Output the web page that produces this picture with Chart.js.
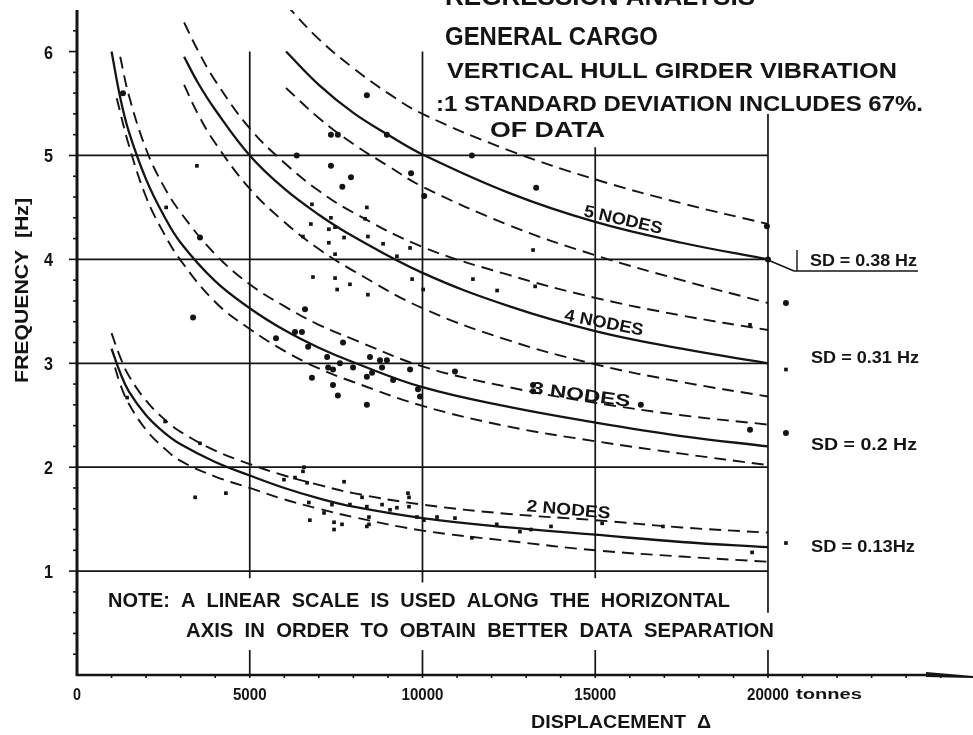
<!DOCTYPE html>
<html><head><meta charset="utf-8">
<script src="https://cdn.jsdelivr.net/npm/chart.js@4/dist/chart.umd.min.js"></script>
<style>html,body{margin:0;padding:0;background:#fff}#c{display:block}</style>
</head><body>
<canvas id="c" width="973" height="735"></canvas>
<script>
// ---------- DATA ----------
const xTickValues = [0, 5000, 10000, 15000, 20000];
const xTickLabels = ['0', '5000', '10000', '15000', '20000'];
const yTickValues = [1, 2, 3, 4, 5, 6];
const yTickLabels = ['1', '2', '3', '4', '5', '6'];

// 5 nodes
const node5Disp  = [6050, 7000, 8000, 9000, 10000, 12500, 15000, 17500, 20000];
const node5Mean  = [6.00, 5.68, 5.41, 5.20, 5.01, 4.64, 4.36, 4.16, 4.00];
const node5Upper = [6.45, 6.12, 5.84, 5.60, 5.40, 5.05, 4.77, 4.54, 4.34];
const node5Lower = [5.65, 5.36, 5.11, 4.90, 4.70, 4.33, 4.04, 3.80, 3.58];
// 4 nodes
const node4Disp  = [3100, 3500, 4000, 5000, 6000, 7000, 8000, 10000, 12500, 15000, 17500, 20000];
const node4Upper = [6.28, 6.01, 5.72, 5.26, 4.93, 4.66, 4.45, 4.12, 3.85, 3.63, 3.46, 3.32];
const node4Mean  = [5.95, 5.70, 5.44, 5.00, 4.68, 4.43, 4.22, 3.87, 3.55, 3.31, 3.14, 3.00];
const node4Lower = [5.68, 5.40, 5.12, 4.68, 4.36, 4.10, 3.89, 3.53, 3.22, 2.99, 2.82, 2.68];
// 3 nodes
const node3MeanDisp  = [1000, 1250, 1500, 2000, 2500, 3000, 4000, 5000, 6000, 7000, 8000, 10000, 12500, 15000, 17500, 20000];
const node3Mean      = [6.00, 5.56, 5.23, 4.77, 4.43, 4.16, 3.79, 3.53, 3.32, 3.15, 3.01, 2.77, 2.58, 2.43, 2.30, 2.20];
const node3UpperDisp = [1250, 1500, 2000, 2500, 3000, 4000, 5000, 6000, 7000, 8000, 10000, 12500, 15000, 17500, 20000];
const node3Upper     = [5.95, 5.58, 5.06, 4.71, 4.45, 4.05, 3.76, 3.55, 3.37, 3.23, 2.97, 2.77, 2.62, 2.50, 2.41];
const node3LowerDisp = [1150, 1500, 2000, 2500, 3000, 4000, 5000, 6000, 7000, 8000, 10000, 12500, 15000, 17500, 20000];
const node3Lower     = [5.55, 5.10, 4.60, 4.26, 3.99, 3.59, 3.33, 3.12, 2.95, 2.82, 2.59, 2.39, 2.25, 2.13, 2.02];
// 2 nodes
const node2Disp      = [1000, 1250, 1500, 2000, 2500, 3000, 4000, 5000, 6000, 7000, 8000, 10000, 12500, 15000, 17500, 20000];
const node2Mean      = [3.14, 2.91, 2.73, 2.50, 2.34, 2.22, 2.05, 1.92, 1.80, 1.70, 1.62, 1.51, 1.42, 1.35, 1.28, 1.23];
const node2Upper     = [3.29, 3.06, 2.88, 2.64, 2.47, 2.34, 2.16, 2.03, 1.92, 1.83, 1.75, 1.64, 1.55, 1.49, 1.42, 1.37];
const node2LowerDisp = [1100, 1250, 1500, 2000, 2500, 3000, 4000, 5000, 6000, 7000, 8000, 10000, 12500, 15000, 17500, 20000];
const node2Lower     = [2.96, 2.80, 2.61, 2.36, 2.19, 2.06, 1.91, 1.80, 1.69, 1.60, 1.52, 1.39, 1.29, 1.20, 1.14, 1.09];

// measured points: round dots
const dotDisp = [6360, 7350, 7930, 7680, 8390, 8970, 9670, 10050, 11430, 7350, 7550, 13290, 20000, 19970, 20520, 3560, 3360, 1330,
  6600, 6310, 6510, 5760, 6690, 7700, 7240, 7270, 7610, 7410, 6800, 7410, 7550, 7990, 8390, 8480, 8540, 8390, 8770, 8970, 8830, 9150,
  9640, 9870, 9930, 10940, 13200, 13200, 16320, 19480, 20520];
const dotFreq = [5.00, 4.90, 4.79, 4.70, 5.58, 5.20, 4.83, 4.61, 5.00, 5.20, 5.20, 4.69, 4.00, 4.32, 3.58, 4.21, 3.44, 5.60,
  3.52, 3.30, 3.30, 3.24, 3.16, 3.20, 3.06, 2.96, 3.00, 2.94, 2.86, 2.79, 2.69, 2.96, 2.60, 3.06, 2.91, 2.87, 3.03, 3.03, 2.96, 2.84,
  2.94, 2.75, 2.68, 2.92, 2.73, 2.79, 2.60, 2.36, 2.33];
// measured points: small squares
const sqDisp = [3470, 6800, 7350, 8390, 2580, 6770, 6540, 7290, 7470, 7290, 7470, 7730, 8340, 8420, 8860, 9260, 9640, 9700, 10020,
  6830, 7470, 7530, 7900, 8420, 11460, 12160, 13260, 13200, 19480, 20520,
  3420, 4310, 2550, 3560, 1450, 5990, 6310, 6570, 6660, 6540, 6710, 6740, 7150, 7380, 7440, 7440, 7670, 7730, 7900, 8250, 8390,
  8450, 8450, 8830, 9060, 9260, 9610, 9610, 9840, 10040, 8390, 10420, 11430, 9580, 15200, 16960, 19540, 10940, 12150, 12820,
  13140, 13720, 20520];
const sqFreq = [4.90, 4.53, 4.40, 4.50, 4.50, 4.34, 4.22, 4.29, 4.31, 4.16, 4.05, 4.21, 4.39, 4.22, 4.15, 4.03, 4.11, 3.81, 3.71,
  3.83, 3.82, 3.71, 3.76, 3.66, 3.81, 3.70, 3.74, 4.09, 3.37, 2.94,
  1.71, 1.75, 2.44, 2.23, 2.67, 1.88, 1.90, 2.00, 1.85, 1.96, 1.66, 1.49, 1.56, 1.64, 1.47, 1.40, 1.45, 1.86, 1.64, 1.71, 1.62,
  1.52, 1.45, 1.64, 1.59, 1.61, 1.71, 1.62, 1.52, 1.49, 1.43, 1.52, 1.32, 1.75, 1.46, 1.43, 1.18, 1.51, 1.45, 1.38,
  1.40, 1.43, 1.27];

// ---------- CHART ----------
const INK = '#141414';
const X_MAX = 25500, Y_MAX = 6.4;
const FONT = '"Liberation Sans Narrow", "Liberation Sans", "DejaVu Sans", sans-serif';
const pts = (xs, ys) => xs.map((v, i) => ({x: v, y: ys[i]}));

function curve(xs, ys, dashed) {
  return {
    type: 'line', data: pts(xs, ys), showLine: true, pointRadius: 0, borderColor: INK,
    borderWidth: dashed ? 1.9 : 2.3, borderDash: dashed ? [12, 7] : [], tension: 0.4, fill: false
  };
}

const datasets = [
  curve(node5Disp, node5Upper, true), curve(node5Disp, node5Mean, false), curve(node5Disp, node5Lower, true),
  curve(node4Disp, node4Upper, true), curve(node4Disp, node4Mean, false), curve(node4Disp, node4Lower, true),
  curve(node3UpperDisp, node3Upper, true), curve(node3MeanDisp, node3Mean, false), curve(node3LowerDisp, node3Lower, true),
  curve(node2Disp, node2Upper, true), curve(node2Disp, node2Mean, false), curve(node2LowerDisp, node2Lower, true),
  {type: 'scatter', data: pts(dotDisp, dotFreq), pointStyle: 'circle', pointRadius: 3, backgroundColor: INK, borderWidth: 0},
  {type: 'scatter', data: pts(sqDisp, sqFreq), pointStyle: 'rect', pointRadius: 2.6, backgroundColor: INK, borderWidth: 0}
];

function txt(ctx, s, x, y, size, o = {}) {
  ctx.save();
  ctx.font = (o.weight || 'bold') + ' ' + size + 'px ' + FONT;
  ctx.fillStyle = INK;
  ctx.textBaseline = 'alphabetic';
  ctx.translate(x, y);
  if (o.rot) ctx.rotate(o.rot * Math.PI / 180);
  const w = ctx.measureText(s).width;
  if (o.w) ctx.scale(o.w / w, 1);
  ctx.textAlign = o.align || 'left';
  ctx.fillText(s, 0, 0);
  ctx.restore();
}
function seg(ctx, x1, y1, x2, y2) { ctx.beginPath(); ctx.moveTo(x1, y1); ctx.lineTo(x2, y2); ctx.stroke(); }

const framePlugin = {
  id: 'frame',
  beforeDatasetsDraw(chart) {
    const {ctx, scales: {x, y}} = chart;
    const X = v => x.getPixelForValue(v), Y = v => y.getPixelForValue(v);
    ctx.save();
    ctx.strokeStyle = INK; ctx.lineCap = 'butt';
    // horizontal grid lines
    ctx.lineWidth = 1.7;
    [1, 2, 3, 4, 5].forEach(v => seg(ctx, X(0), Y(v), X(20000), Y(v)));
    // vertical grid lines (broken for the note text)
    const vSpans = [[5000, 6.0, 0.93], [10000, 6.0, 0.89], [15000, 5.08, 0.93], [20000, 5.4, 0.6]];
    vSpans.forEach(([v, top, bot]) => { seg(ctx, X(v), Y(top), X(v), Y(bot)); seg(ctx, X(v), Y(0.24), X(v), Y(0)); });
    // y axis
    ctx.lineWidth = 3;
    seg(ctx, X(0), Y(0) + 1, X(0), chart.chartArea.top);
    // x axis
    ctx.lineWidth = 2.4;
    seg(ctx, X(0) - 1, Y(0), 930, Y(0));
    ctx.fillStyle = INK;
    ctx.beginPath(); ctx.moveTo(926, Y(0) - 3); ctx.lineTo(973, Y(0) + 1); ctx.lineTo(973, Y(0) + 3); ctx.lineTo(926, Y(0) + 2); ctx.closePath(); ctx.fill();
    // y ticks
    ctx.lineWidth = 1.6;
    for (let k = 1; k <= 31; k++) {
      const v = k * 0.2, major = k % 5 === 0;
      seg(ctx, X(0) - (major ? 8 : 4), Y(v), X(0), Y(v));
    }
    // x minor ticks
    for (let v = 1000; v <= 25000; v += 1000) seg(ctx, X(v), Y(0), X(v), Y(0) + 3);
    // tick labels
    xTickValues.forEach((v, i) => txt(ctx, xTickLabels[i], X(v), 700, 17, {align: 'center', w: v === 0 ? 8 : (xTickLabels[i].length * 8.4)}));
    txt(ctx, 'tonnes', 796, 699, 14, {w: 66});
    yTickValues.forEach((v, i) => txt(ctx, yTickLabels[i], 53, Y(v) + 7, 18, {align: 'right', w: 9}));
    ctx.restore();
  },
  afterDraw(chart) {
    const {ctx} = chart;
    // title block
    txt(ctx, 'REGRESSION ANALYSIS', 445, 5, 25, {w: 310});
    txt(ctx, 'GENERAL CARGO', 445, 45, 25, {w: 213});
    txt(ctx, 'VERTICAL HULL GIRDER VIBRATION', 447, 78, 22, {w: 450});
    txt(ctx, ':1 STANDARD DEVIATION INCLUDES 67%.', 436, 111, 22, {w: 487});
    txt(ctx, 'OF DATA', 490, 137, 22, {w: 115});
    // curve labels
    txt(ctx, '5 NODES', 622, 225, 17, {rot: 13, align: 'center', w: 80});
    txt(ctx, '4 NODES', 603, 328, 17, {rot: 11, align: 'center', w: 80});
    txt(ctx, '3 NODES', 580, 400, 17, {rot: 8, align: 'center', w: 100});
    txt(ctx, '2 NODES', 568, 515, 17, {rot: 5, align: 'center', w: 84});
    // SD labels
    ctx.save(); ctx.strokeStyle = INK; ctx.lineWidth = 1.4;
    seg(ctx, 768, 260, 794, 271); seg(ctx, 794, 271, 918, 271); seg(ctx, 797, 250, 797, 271);
    ctx.restore();
    txt(ctx, 'SD = 0.38 Hz', 810, 266, 17, {w: 107});
    txt(ctx, 'SD = 0.31 Hz', 811, 363, 17, {w: 108});
    txt(ctx, 'SD = 0.2 Hz', 811, 450, 17, {w: 106});
    txt(ctx, 'SD = 0.13Hz', 811, 552, 17, {w: 104});
    // note
    txt(ctx, 'NOTE:  A  LINEAR  SCALE  IS  USED  ALONG  THE  HORIZONTAL', 108, 607, 20, {w: 622});
    txt(ctx, 'AXIS  IN  ORDER  TO  OBTAIN  BETTER  DATA  SEPARATION', 186, 637, 20, {w: 588});
    // axis titles
    txt(ctx, 'DISPLACEMENT  \u0394', 531, 728, 18, {w: 180});
    txt(ctx, 'FREQUENCY  [Hz]', 28, 383, 18, {rot: -90, w: 185});
  }
};

new Chart(document.getElementById('c'), {
  type: 'scatter',
  data: {datasets},
  options: {
    responsive: false, animation: false, devicePixelRatio: 1,
    layout: {padding: {left: 77, right: 15, top: 10, bottom: 60}},
    scales: {
      x: {type: 'linear', min: 0, max: X_MAX, display: false},
      y: {type: 'linear', min: 0, max: Y_MAX, display: false}
    },
    plugins: {legend: {display: false}, tooltip: {enabled: false}}
  },
  plugins: [framePlugin]
});
</script>
</body></html>
